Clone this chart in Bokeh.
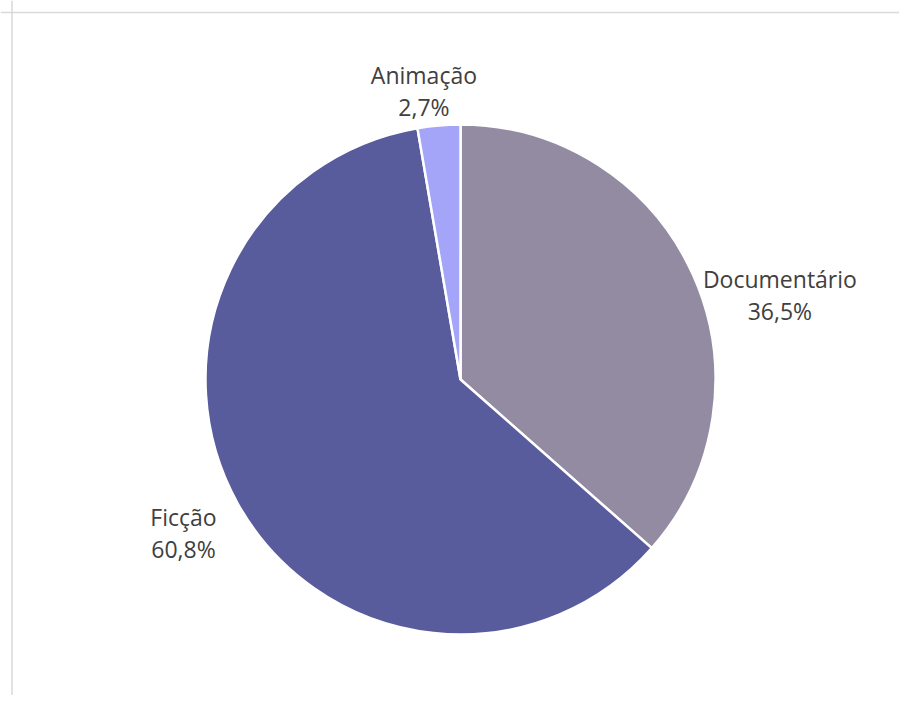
import math
from bokeh.plotting import figure
from bokeh.models import Range1d, Span, ColumnDataSource
from bokeh.core.properties import value
from bokeh.embed import file_html
from bokeh.resources import INLINE

categories = ["Documentário", "Ficção", "Animação"]
shares = [36.5, 60.8, 2.7]
pct_labels = ["36,5%", "60,8%", "2,7%"]
colors = ["#938BA2", "#585C9C", "#A4A4F8"]

W, H = 899, 695
p = figure(width=W, height=H, output_backend="svg", toolbar_location=None,
           x_range=Range1d(0, W), y_range=Range1d(0, H), min_border=0)
p.axis.visible = False
p.grid.visible = False
p.outline_line_color = None
p.background_fill_color = "white"
p.border_fill_color = "white"

# frame (top and left edges visible in window)
p.add_layout(Span(location=H - 12, dimension="width", line_color="#d9d9d9", line_width=1.5))
p.add_layout(Span(location=11.5, dimension="height", line_color="#d9d9d9", line_width=1.5))

cx, cy, R = 460, H - 379, 255
total = sum(shares)
starts, ends, mids = [], [], []
acc = 0.0
for s in shares:
    a0 = math.pi / 2 - 2 * math.pi * acc / total
    acc += s
    a1 = math.pi / 2 - 2 * math.pi * acc / total
    starts.append(a0)
    ends.append(a1)
    mids.append((a0 + a1) / 2)

src = ColumnDataSource(dict(cat=categories, start=starts, end=ends, color=colors))
p.wedge(x=cx, y=cy, radius=R, start_angle="start", end_angle="end", direction="clock",
        fill_color="color", line_color="white", line_width=2.5, source=src)

# label layout: radial distance and extra shifts (px)
lab_r = [300, 300, 290]
lab_dx = [46, -15, -12]
lab_dy = [-23, 9, 16]
lx, ly = [], []
for m, r, dx, dy in zip(mids, lab_r, lab_dx, lab_dy):
    lx.append(cx + r * math.cos(m) + dx)
    ly.append(cy + r * math.sin(m) + dy)

lsrc = ColumnDataSource(dict(x=lx, y=ly, y2=[y - 32 for y in ly], name=categories, pct=pct_labels))
common = dict(text_align="center", text_baseline="middle", text_color="#404040",
              text_font=value("Open Sans"), text_font_size="23px", source=lsrc)
p.text(x="x", y="y", text="name", **common)
p.text(x="x", y="y2", text="pct", **common)

open("out.html", "w").write(file_html(p, INLINE))
